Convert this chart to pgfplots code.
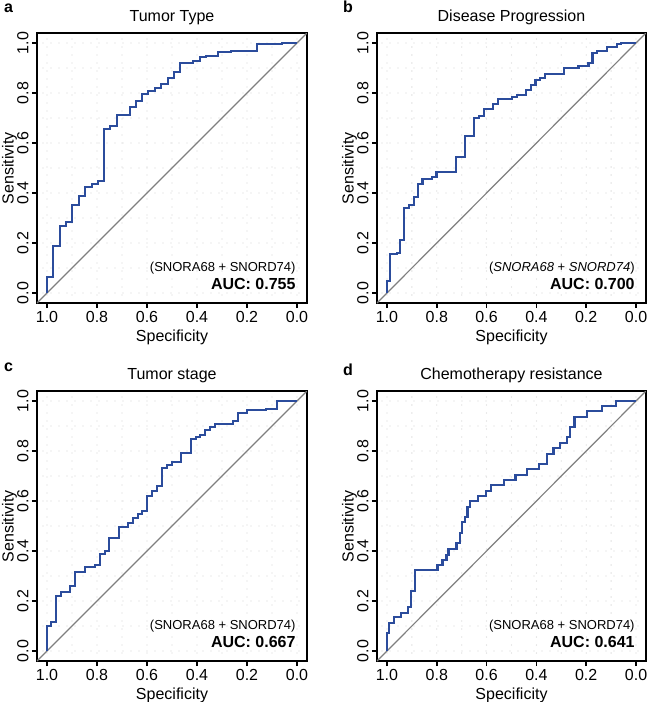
\documentclass[border=0pt]{standalone}
\usepackage{pgfplots}
\pgfplotsset{compat=1.18}
\usepackage{fontspec}
\setmainfont{Liberation Sans}
\definecolor{rocblue}{HTML}{2B4C9C}
\definecolor{diaggray}{HTML}{7F7F7F}
\definecolor{dotgray}{HTML}{D4D4D4}
\pgfplotsset{
  rocax/.style={
    scale only axis, width=270pt, height=270pt,
    xmin=-0.04, xmax=1.04, ymin=-0.04, ymax=1.04,
    x dir=reverse,
    xtick={0,0.2,0.4,0.6,0.8,1}, ytick={0,0.2,0.4,0.6,0.8,1},
    minor tick num=1, minor tick length=0pt,
    tick pos=left, tick align=outside, major tick length=5pt,
    tick style={black, line width=1.6pt},
    axis line style={line width=2.4pt},
    grid=both,
    major grid style={dotgray, line width=1.3pt, line cap=round, dash pattern=on 0pt off 8pt},
    minor grid style={dotgray, line width=1.3pt, line cap=round, dash pattern=on 0pt off 8pt},
    /pgf/number format/fixed, /pgf/number format/fixed zerofill,
    /pgf/number format/precision=1, /pgf/number format/assume math mode=true,
    tick label style={font=\fontsize{16}{19}\selectfont},
    yticklabel style={rotate=90, anchor=south},
    label style={font=\fontsize{16}{19}\selectfont},
    xlabel={Specificity}, ylabel={Sensitivity},
    xlabel style={at={(axis description cs:0.5,-0.142)}, anchor=base},
    ylabel style={at={(axis description cs:-0.087,0.5)}, anchor=base},
    title style={font=\fontsize{16}{19}\selectfont, at={(axis description cs:0.5,1)}, anchor=base, yshift=5.5pt},
  },
  roc/.style={rocblue, line width=2.2pt, line join=miter},
  diag/.style={diaggray, line width=1.2pt},
}
\newcommand{\annot}[2]{%
  \node[anchor=base east, font=\fontsize{13}{15}\selectfont, inner sep=0pt] at (axis cs:0.005,0.086) {#1};
  \node[anchor=base east, font=\fontsize{16}{19}\selectfont\bfseries, inner sep=0pt] at (axis cs:0.005,0.016) {AUC: #2};
}
\begin{document}
\begin{tikzpicture}
\useasboundingbox (0,0) rectangle (647pt,-702pt);
\node[anchor=base west, inner sep=0pt, font=\fontsize{16}{19}\selectfont\bfseries] at (4pt,-12pt) {a};
\node[anchor=base west, inner sep=0pt, font=\fontsize{16}{19}\selectfont\bfseries] at (343pt,-12.5pt) {b};
\node[anchor=base west, inner sep=0pt, font=\fontsize{16}{19}\selectfont\bfseries] at (4pt,-371pt) {c};
\node[anchor=base west, inner sep=0pt, font=\fontsize{16}{19}\selectfont\bfseries] at (343pt,-375pt) {d};

% Panel a
\begin{axis}[rocax, at={(37pt,-33pt)}, anchor=north west, title={Tumor Type}]
\addplot[diag] coordinates {(1.04,-0.04) (-0.04,1.04)};
\addplot[roc] coordinates {
(1,0) (1,0.063) (0.975,0.063) (0.975,0.187) (0.949,0.187) (0.949,0.269) (0.924,0.269) (0.924,0.283) (0.899,0.283) (0.899,0.353) (0.873,0.353) (0.873,0.389) (0.848,0.389) (0.848,0.423) (0.821,0.423) (0.821,0.436) (0.796,0.436) (0.796,0.448) (0.771,0.448) (0.771,0.656) (0.747,0.656) (0.747,0.669) (0.721,0.669) (0.721,0.713) (0.669,0.713) (0.669,0.745) (0.644,0.745) (0.644,0.769) (0.62,0.769) (0.62,0.796) (0.595,0.796) (0.595,0.807) (0.569,0.807) (0.569,0.82) (0.544,0.82) (0.544,0.836) (0.517,0.836) (0.517,0.86) (0.492,0.86) (0.492,0.883) (0.467,0.883) (0.467,0.919) (0.415,0.919) (0.415,0.927) (0.389,0.927) (0.389,0.943) (0.364,0.943) (0.364,0.949) (0.315,0.949) (0.315,0.963) (0.264,0.963) (0.264,0.969) (0.161,0.969) (0.161,0.996) (0.06,0.996) (0.06,1) (0,1)};
\annot{(SNORA68 + SNORD74)}{0.755}
\end{axis}

% Panel b
\begin{axis}[rocax, at={(377pt,-33pt)}, anchor=north west, width=269pt, title={Disease Progression}]
\addplot[diag] coordinates {(1.04,-0.04) (-0.04,1.04)};
\addplot[roc] coordinates {
(1,0) (1,0.047) (0.987,0.047) (0.987,0.155) (0.961,0.155) (0.961,0.161) (0.948,0.161) (0.948,0.213) (0.932,0.213) (0.932,0.341) (0.911,0.341) (0.911,0.351) (0.893,0.351) (0.893,0.384) (0.876,0.384) (0.876,0.436) (0.857,0.436) (0.857,0.456) (0.82,0.456) (0.82,0.465) (0.801,0.465) (0.801,0.484) (0.724,0.484) (0.724,0.544) (0.687,0.544) (0.687,0.628) (0.651,0.628) (0.651,0.7) (0.631,0.7) (0.631,0.709) (0.611,0.709) (0.611,0.737) (0.573,0.737) (0.573,0.757) (0.555,0.757) (0.555,0.777) (0.497,0.777) (0.497,0.784) (0.479,0.784) (0.479,0.793) (0.441,0.793) (0.441,0.813) (0.423,0.813) (0.423,0.831) (0.404,0.831) (0.404,0.851) (0.384,0.851) (0.384,0.86) (0.364,0.86) (0.364,0.875) (0.289,0.875) (0.289,0.9) (0.231,0.9) (0.231,0.907) (0.191,0.907) (0.191,0.92) (0.175,0.92) (0.175,0.96) (0.157,0.96) (0.157,0.967) (0.117,0.967) (0.117,0.984) (0.077,0.984) (0.077,0.995) (0.06,0.995) (0.06,1) (0,1)};
\annot{(\textit{SNORA68} + \textit{SNORD74})}{0.700}
\end{axis}

% Panel c
\begin{axis}[rocax, at={(37pt,-391pt)}, anchor=north west, title={Tumor stage}]
\addplot[diag] coordinates {(1.04,-0.04) (-0.04,1.04)};
\addplot[roc] coordinates {
(1,0) (1,0.1) (0.983,0.1) (0.983,0.116) (0.963,0.116) (0.963,0.22) (0.943,0.22) (0.943,0.236) (0.907,0.236) (0.907,0.26) (0.887,0.26) (0.887,0.317) (0.849,0.317) (0.849,0.336) (0.809,0.336) (0.809,0.343) (0.789,0.343) (0.789,0.387) (0.769,0.387) (0.769,0.4) (0.751,0.4) (0.751,0.453) (0.713,0.453) (0.713,0.496) (0.676,0.496) (0.676,0.513) (0.656,0.513) (0.656,0.531) (0.636,0.531) (0.636,0.549) (0.62,0.549) (0.62,0.56) (0.599,0.56) (0.599,0.62) (0.579,0.62) (0.579,0.64) (0.559,0.64) (0.559,0.66) (0.539,0.66) (0.539,0.731) (0.52,0.731) (0.52,0.744) (0.501,0.744) (0.501,0.757) (0.463,0.757) (0.463,0.793) (0.425,0.793) (0.425,0.847) (0.405,0.847) (0.405,0.856) (0.387,0.856) (0.387,0.864) (0.368,0.864) (0.368,0.883) (0.348,0.883) (0.348,0.896) (0.329,0.896) (0.329,0.909) (0.256,0.909) (0.256,0.92) (0.236,0.92) (0.236,0.953) (0.2,0.953) (0.2,0.964) (0.123,0.964) (0.123,0.969) (0.08,0.969) (0.08,1) (0,1)};
\annot{(SNORA68 + SNORD74)}{0.667}
\end{axis}

% Panel d
\begin{axis}[rocax, at={(377pt,-391pt)}, anchor=north west, width=269pt, title={Chemotherapy resistance}]
\addplot[diag] coordinates {(1.04,-0.04) (-0.04,1.04)};
\addplot[roc] coordinates {
(1,0) (1,0.071) (0.993,0.071) (0.993,0.111) (0.973,0.111) (0.973,0.135) (0.944,0.135) (0.944,0.153) (0.917,0.153) (0.917,0.177) (0.904,0.177) (0.904,0.24) (0.887,0.24) (0.887,0.324) (0.797,0.324) (0.797,0.344) (0.777,0.344) (0.777,0.364) (0.761,0.364) (0.761,0.384) (0.753,0.384) (0.753,0.408) (0.721,0.408) (0.721,0.431) (0.708,0.431) (0.708,0.473) (0.7,0.473) (0.7,0.517) (0.687,0.517) (0.687,0.537) (0.677,0.537) (0.677,0.577) (0.667,0.577) (0.667,0.6) (0.633,0.6) (0.633,0.621) (0.601,0.621) (0.601,0.641) (0.581,0.641) (0.581,0.664) (0.531,0.664) (0.531,0.684) (0.484,0.684) (0.484,0.704) (0.437,0.704) (0.437,0.727) (0.391,0.727) (0.391,0.748) (0.357,0.748) (0.357,0.788) (0.331,0.788) (0.331,0.813) (0.304,0.813) (0.304,0.833) (0.277,0.833) (0.277,0.855) (0.264,0.855) (0.264,0.895) (0.247,0.895) (0.247,0.937) (0.197,0.937) (0.197,0.96) (0.137,0.96) (0.137,0.981) (0.08,0.981) (0.08,1) (0,1)};
\annot{(SNORA68 + SNORD74)}{0.641}
\end{axis}
\end{tikzpicture}
\end{document}
